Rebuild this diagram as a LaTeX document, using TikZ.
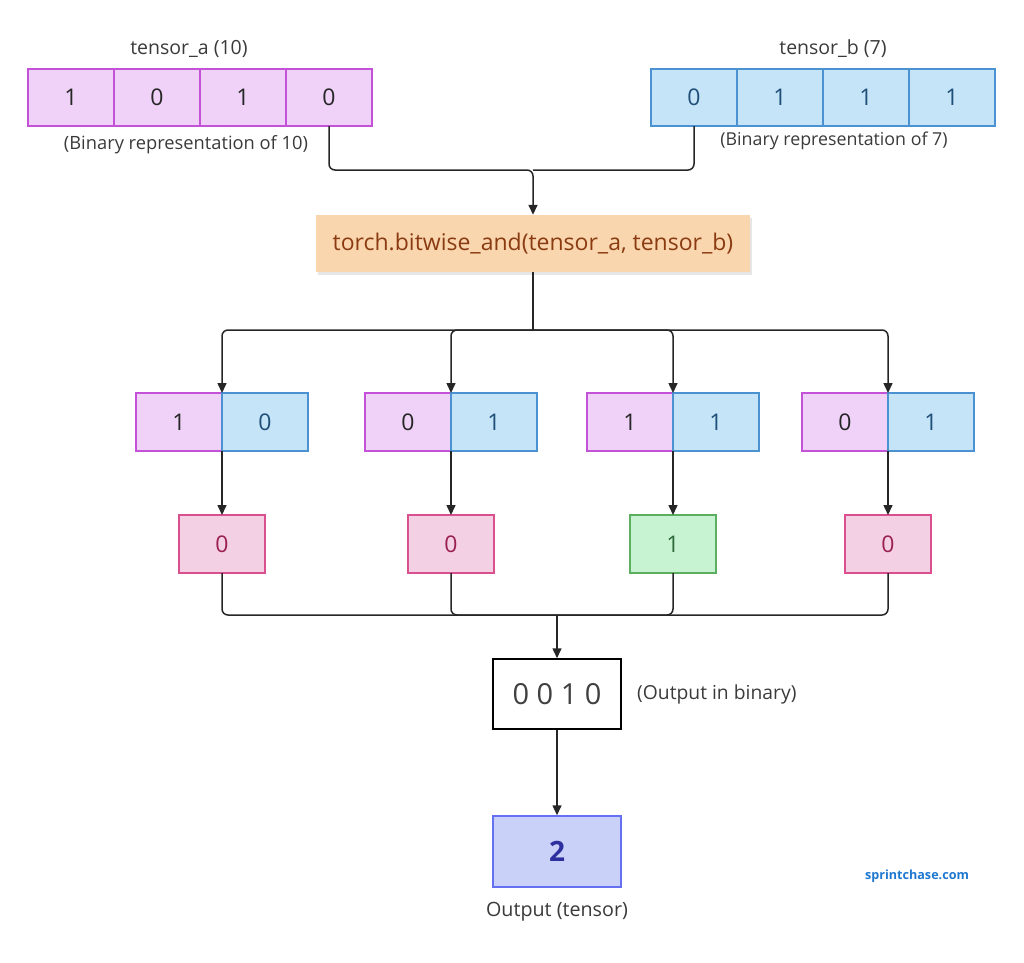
\documentclass[tikz,border=0pt]{standalone}
\usepackage{fontspec}
\setmainfont{Open Sans}
\usetikzlibrary{positioning,arrows.meta,shadows}
\definecolor{abitfill}{HTML}{F0D2F9}
\definecolor{abitdraw}{HTML}{C452D8}
\definecolor{bbitfill}{HTML}{C5E4F7}
\definecolor{bbitdraw}{HTML}{4A92D2}
\definecolor{bbittext}{HTML}{1F4E78}
\definecolor{zerofill}{HTML}{F4D0E4}
\definecolor{zerodraw}{HTML}{DA4F8E}
\definecolor{zerotext}{HTML}{99204F}
\definecolor{onefill}{HTML}{C8F3D3}
\definecolor{onedraw}{HTML}{5BAF5F}
\definecolor{onetext}{HTML}{2F6A3B}
\definecolor{fnfill}{HTML}{F9D6AE}
\definecolor{fntext}{HTML}{8A3B12}
\definecolor{outfill}{HTML}{C9D1F9}
\definecolor{outdraw}{HTML}{6670F2}
\definecolor{outtext}{HTML}{2D2F9E}
\definecolor{labeltext}{HTML}{3A3A3A}
\definecolor{webblue}{HTML}{1E78D0}
\tikzset{
  cell/.style={draw, line width=1.5pt, minimum width=86pt, minimum height=57pt,
    inner sep=0pt, outer sep=0pt, font=\fontsize{23}{27}\selectfont},
  abit/.style={cell, fill=abitfill, draw=abitdraw, text=black!85},
  bbit/.style={cell, fill=bbitfill, draw=bbitdraw, text=bbittext},
  zerobit/.style={cell, minimum height=58pt, fill=zerofill, draw=zerodraw, text=zerotext},
  onebit/.style={cell, minimum height=58pt, fill=onefill, draw=onedraw, text=onetext},
  caption/.style={text=labeltext, inner sep=0pt, font=\fontsize{18.3}{22}\selectfont},
  wire/.style={line width=1.5pt, draw=black!85, rounded corners=6pt},
}
\begin{document}
\begin{tikzpicture}[x=1pt, y=-1pt, >={Triangle[length=10pt,width=9pt]}]
      \useasboundingbox (0,0) rectangle (1024,962);
      % inputs
      \node[abit] (a1) at (71,97.5) {1};
      \node[abit, right=0pt of a1] (a2) {0};
      \node[abit, right=0pt of a2] (a3) {1};
      \node[abit, right=0pt of a3] (a4) {0};
      \node[bbit] (b1) at (694,97.5) {0};
      \node[bbit, right=0pt of b1] (b2) {1};
      \node[bbit, right=0pt of b2] (b3) {1};
      \node[bbit, right=0pt of b3] (b4) {1};
      \node[caption, font=\fontsize{19.5}{23}\selectfont] (alabel) at (189,49) {tensor\_a (10)};
      \node[caption, font=\fontsize{19.5}{23}\selectfont] (blabel) at (833,49) {tensor\_b (7)};
      \node[caption] (anote) at (186,145) {(Binary representation of 10)};
      \node[caption, font=\fontsize{17.8}{22}\selectfont] (bnote) at (834,141) {(Binary representation of 7)};
      % operation
      \node[fill=fnfill, text=fntext, minimum width=434pt, minimum height=57pt, inner sep=0pt,
        font=\fontsize{23}{27}\selectfont,
        drop shadow={opacity=0.2, shadow xshift=2pt, shadow yshift=-3pt}] (fn) at (533,243.5)
        {torch.bitwise\_and(tensor\_a, tensor\_b)};
      \coordinate (join) at (533,170);
      \draw[wire, ->] (a4.south) |- (join) -- (fn.north);
      \draw[wire] (b1.south) |- (join);
      % bit pairs
      \node[abit, minimum height=58pt] (pa1) at (179,422) {1};
      \node[bbit, minimum height=58pt, right=0pt of pa1] (pb1) {0};
      \node[abit, minimum height=58pt] (pa2) at (408,422) {0};
      \node[bbit, minimum height=58pt, right=0pt of pa2] (pb2) {1};
      \node[abit, minimum height=58pt] (pa3) at (630,422) {1};
      \node[bbit, minimum height=58pt, right=0pt of pa3] (pb3) {1};
      \node[abit, minimum height=58pt] (pa4) at (845,422) {0};
      \node[bbit, minimum height=58pt, right=0pt of pa4] (pb4) {1};
      \coordinate (split) at (533,330);
      \draw[wire] (fn.south) -- (split);
      \foreach \i in {1,...,4}
        \draw[wire, ->] (split) -| (pa\i.north east);
      % results
      \node[zerobit] (r1) at (222,544) {0};
      \node[zerobit] (r2) at (451,544) {0};
      \node[onebit] (r3) at (673,544) {1};
      \node[zerobit] (r4) at (888,544) {0};
      \foreach \i in {1,...,4}
        \draw[wire, ->] (pa\i.south east) -- (r\i.north);
      \coordinate (merge) at (557,615);
      \foreach \i in {1,...,4}
        \draw[wire] (r\i.south) |- (merge);
      % output
      \node[draw, line width=1.5pt, fill=white, minimum width=128pt, minimum height=70pt, inner sep=0pt,
        text=black!75, font=\fontsize{29}{34}\selectfont] (out) at (557,694) {0 0 1 0};
      \node[caption, font=\fontsize{19.3}{23}\selectfont, anchor=west] (outnote) at (637,694) {(Output in binary)};
      \node[draw=outdraw, fill=outfill, line width=1.5pt, minimum width=128pt, minimum height=71pt,
        inner sep=0pt, text=outtext, font=\fontsize{28}{33}\bfseries] (res) at (557,851.5) {2};
      \node[caption, font=\fontsize{19.7}{24}\selectfont] (reslabel) at (557,912) {Output (tensor)};
      \draw[wire, ->] (merge) -- (out.north);
      \draw[wire, ->] (out.south) -- (res.north);
      \node[text=webblue, inner sep=0pt, font=\fontsize{12.6}{16}\bfseries] (site) at (917,876) {sprintchase.com};
\end{tikzpicture}
\end{document}
